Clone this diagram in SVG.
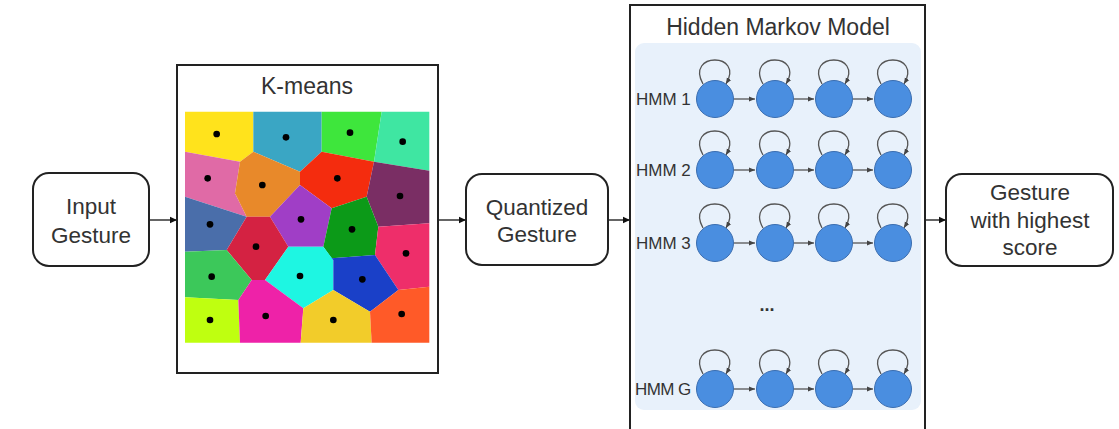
<svg xmlns="http://www.w3.org/2000/svg" width="1119" height="429" viewBox="0 0 1119 429">
<style>
.box{fill:#fff;stroke:#222;stroke-width:2}
.t{font-family:"Liberation Sans",Arial,sans-serif;fill:#333;text-anchor:middle}
.lbl{font-family:"Liberation Sans",Arial,sans-serif;fill:#333;font-size:17px}
.st{fill:#4a8ee0;stroke:#3a6db0;stroke-width:1}
.ed{fill:none;stroke:#555;stroke-width:1.3;marker-end:url(#sa)}
.conn{fill:none;stroke:#111;stroke-width:1.3;marker-end:url(#ba)}
.dot{fill:#000}
</style>
<defs>
<marker id="ba" markerWidth="8" markerHeight="8" refX="7" refY="4" orient="auto" markerUnits="userSpaceOnUse"><path d="M0,0.8 L7,4 L0,7.2 Z" fill="#111"/></marker>
<marker id="sa" markerWidth="7" markerHeight="7" refX="6" refY="3.5" orient="auto" markerUnits="userSpaceOnUse"><path d="M0,1 L6,3.5 L0,6 Z" fill="#444"/></marker>
<g id="hmmrow">
<g>
<path class="ed" d="M703,-15 C685,-47 745,-47 726,-15"/>
<path class="ed" d="M763,-15 C745,-47 805,-47 786,-15"/>
<path class="ed" d="M822,-15 C804,-47 864,-47 845,-15"/>
<path class="ed" d="M881,-15 C863,-47 923,-47 904,-15"/>
<line class="ed" x1="734" y1="0" x2="755" y2="0"/>
<line class="ed" x1="794" y1="0" x2="814" y2="0"/>
<line class="ed" x1="853" y1="0" x2="873" y2="0"/>
</g>
<circle class="st" cx="715" cy="0" r="18.5"/>
<circle class="st" cx="775" cy="0" r="18.5"/>
<circle class="st" cx="834" cy="0" r="18.5"/>
<circle class="st" cx="893" cy="0" r="18.5"/>
</g>
</defs>

<g id="connectors">
<line class="conn" x1="149" y1="220" x2="177" y2="220"/>
<line class="conn" x1="438" y1="220" x2="466" y2="220"/>
<line class="conn" x1="608" y1="220" x2="630" y2="220"/>
<line class="conn" x1="925" y1="220" x2="946" y2="220"/>
</g>

<g id="input">
<rect class="box" x="33" y="173" width="116" height="93" rx="16"/>
<text class="t" x="91" y="214" font-size="22.5">Input</text>
<text class="t" x="91" y="243" font-size="22.5">Gesture</text>
</g>

<g id="kmeans">
<rect class="box" x="177" y="65" width="261" height="308"/>
<text class="t" x="307" y="94" font-size="23">K-means</text>
<g transform="translate(170,60) scale(0.33333)">
<polygon fill="#ffe31c" points="45,155 250,155 250,275 210,305 45,275"/>
<polygon fill="#3aa6c4" points="250,155 455,155 455,275 390,335 250,275"/>
<polygon fill="#3ee63c" points="455,155 635,155 612,305 455,275"/>
<polygon fill="#3fe6a2" points="635,155 778,155 778,332 612,305"/>
<polygon fill="#e06aa6" points="45,275 210,305 195,400 230,470 45,410"/>
<polygon fill="#e8892a" points="210,305 250,275 390,335 390,375 300,470 230,470 195,400"/>
<polygon fill="#f42c0e" points="390,335 455,275 612,305 590,410 485,445 390,375"/>
<polygon fill="#7a2e64" points="612,305 778,332 778,490 625,500 590,410"/>
<polygon fill="#4a6eaa" points="45,410 230,470 170,570 45,575"/>
<polygon fill="#a03ec6" points="300,470 390,375 485,445 460,560 355,560"/>
<polygon fill="#0c9a18" points="485,445 590,410 625,500 615,585 485,595 460,560"/>
<polygon fill="#d42242" points="230,470 300,470 355,560 285,660 245,660 170,570"/>
<polygon fill="#ee2e6a" points="625,500 778,490 778,680 685,690 615,585"/>
<polygon fill="#3cc85a" points="45,575 170,570 245,660 205,720 45,712"/>
<polygon fill="#1ef6e2" points="355,560 460,560 490,600 490,690 400,745 285,660"/>
<polygon fill="#1a40c8" points="485,595 615,585 685,690 600,755 490,690 490,600"/>
<polygon fill="#bfff10" points="45,712 205,720 210,848 45,848"/>
<polygon fill="#ee22a8" points="205,720 245,660 285,660 400,745 392,848 210,848"/>
<polygon fill="#f2cc2a" points="400,745 490,690 600,755 605,848 392,848"/>
<polygon fill="#ff5a28" points="600,755 685,690 778,680 778,848 605,848"/>
<circle class="dot" cx="140" cy="222" r="10"/>
<circle class="dot" cx="348" cy="232" r="10"/>
<circle class="dot" cx="540" cy="218" r="10"/>
<circle class="dot" cx="698" cy="245" r="10"/>
<circle class="dot" cx="113" cy="355" r="10"/>
<circle class="dot" cx="277" cy="375" r="10"/>
<circle class="dot" cx="502" cy="355" r="10"/>
<circle class="dot" cx="690" cy="408" r="10"/>
<circle class="dot" cx="120" cy="493" r="10"/>
<circle class="dot" cx="393" cy="478" r="10"/>
<circle class="dot" cx="546" cy="508" r="10"/>
<circle class="dot" cx="258" cy="560" r="10"/>
<circle class="dot" cx="708" cy="580" r="10"/>
<circle class="dot" cx="125" cy="650" r="10"/>
<circle class="dot" cx="390" cy="648" r="10"/>
<circle class="dot" cx="577" cy="658" r="10"/>
<circle class="dot" cx="120" cy="780" r="10"/>
<circle class="dot" cx="287" cy="768" r="10"/>
<circle class="dot" cx="490" cy="780" r="10"/>
<circle class="dot" cx="695" cy="762" r="10"/>
</g>
</g>

<g id="quantized">
<rect class="box" x="466" y="174" width="142" height="91" rx="16"/>
<text class="t" x="537" y="215" font-size="22.5">Quantized</text>
<text class="t" x="537" y="242" font-size="22.5">Gesture</text>
</g>

<g id="hmm">
<rect class="box" x="630" y="5" width="295" height="440"/>
<text class="t" x="778" y="35" font-size="23">Hidden Markov Model</text>
<rect x="635" y="43" width="286" height="367" rx="9" fill="#e8f1fb"/>
<g id="hmm1"><use href="#hmmrow" transform="translate(0,99)"/><text class="lbl" x="636" y="105">HMM 1</text></g>
<g id="hmm2"><use href="#hmmrow" transform="translate(0,170)"/><text class="lbl" x="636" y="176">HMM 2</text></g>
<g id="hmm3"><use href="#hmmrow" transform="translate(0,243)"/><text class="lbl" x="636" y="249">HMM 3</text></g>
<text class="t" x="767" y="311" font-size="18" font-weight="bold" fill="#333">...</text>
<g id="hmmg"><use href="#hmmrow" transform="translate(0,389)"/><text class="lbl" x="635" y="395" letter-spacing="-0.6">HMM G</text></g>
</g>

<g id="result">
<rect class="box" x="946" y="174" width="167" height="92" rx="16"/>
<text class="t" x="1030" y="200" font-size="22.5">Gesture</text>
<text class="t" x="1030" y="228" font-size="22.5">with highest</text>
<text class="t" x="1030" y="255" font-size="22.5">score</text>
</g>
</svg>
